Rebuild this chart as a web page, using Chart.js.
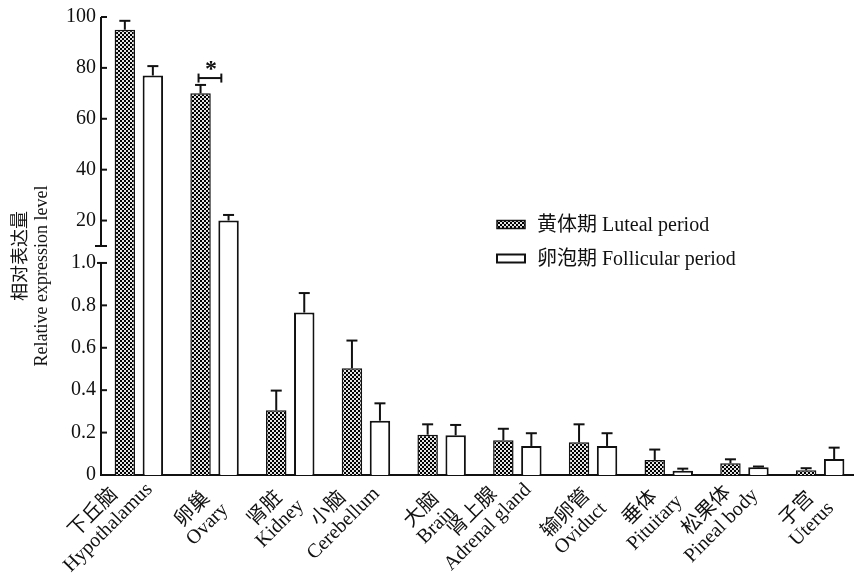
<!DOCTYPE html>
<html>
<head>
<meta charset="utf-8">
<script src="https://cdn.jsdelivr.net/npm/chart.js@4/dist/chart.umd.min.js"></script>
<style>
  html, body { margin: 0; padding: 0; background: #fff; overflow: hidden; width: 854px; height: 578px; }
  #wrap { position: relative; width: 858px; height: 578px; }
</style>
</head>
<body>
<div id="wrap"><canvas id="chart" width="858" height="578"></canvas></div>
<script>
// ---- data -------------------------------------------------------------
const tissuesZh = ['下丘脑', '卵巢', '肾脏', '小脑', '大脑', '肾上腺', '输卵管', '垂体', '松果体', '子宫'];
const tissuesEn = ['Hypothalamus', 'Ovary', 'Kidney', 'Cerebellum', 'Brain', 'Adrenal gland', 'Oviduct', 'Pituitary', 'Pineal body', 'Uterus'];

const lutealMean     = [95.0, 70.0, 0.305, 0.503, 0.190, 0.164, 0.154, 0.071, 0.055, 0.022];
const lutealErr      = [3.5, 3.3, 0.093, 0.131, 0.049, 0.054, 0.085, 0.049, 0.019, 0.010];
const follicularMean = [77.0, 20.0, 0.766, 0.256, 0.187, 0.137, 0.137, 0.020, 0.036, 0.075];
const follicularErr  = [3.7, 2.2, 0.092, 0.082, 0.049, 0.060, 0.060, 0.010, 0.004, 0.054];

const seriesNames = ['黄体期 Luteal period', '卵泡期 Follicular period'];
const yTitleLines = ['相对表达量', 'Relative expression level'];

const yTickValues = [0, 0.2, 0.4, 0.6, 0.8, 1.0, 20, 40, 60, 80, 100];
const yTickLabels = ['0', '0.2', '0.4', '0.6', '0.8', '1.0', '20', '40', '60', '80', '100'];

// luteal vs follicular in the ovary
const significance = { category: 1, level: 76, mark: '*' };

// ---- broken value axis: 0–1 on the lower part, 10–100 on the upper part
const LOW_MAX = 1.0, HIGH_MIN = 10, HIGH_MAX = 100;
const LOW_SHARE = 0.463, HIGH_START = 0.5;

function valueToDecimal(v) {
  if (v <= LOW_MAX) return (v / LOW_MAX) * LOW_SHARE;
  if (v <= HIGH_MIN) return LOW_SHARE + (v - LOW_MAX) / (HIGH_MIN - LOW_MAX) * (HIGH_START - LOW_SHARE);
  return HIGH_START + (v - HIGH_MIN) / (HIGH_MAX - HIGH_MIN) * (1 - HIGH_START);
}
function decimalToValue(d) {
  if (d <= LOW_SHARE) return d / LOW_SHARE * LOW_MAX;
  if (d <= HIGH_START) return LOW_MAX + (d - LOW_SHARE) / (HIGH_START - LOW_SHARE) * (HIGH_MIN - LOW_MAX);
  return HIGH_MIN + (d - HIGH_START) / (1 - HIGH_START) * (HIGH_MAX - HIGH_MIN);
}

class BrokenLinearScale extends Chart.LinearScale {
  buildTicks() { return yTickValues.map(v => ({ value: v })); }
  getPixelForValue(v) { return this.getPixelForDecimal(valueToDecimal(v)); }
  getValueForPixel(p) { return decimalToValue(this.getDecimalForPixel(p)); }
}
BrokenLinearScale.id = 'brokenLinear';
BrokenLinearScale.defaults = {};
Chart.register(BrokenLinearScale);

// ---- styles ------------------------------------------------------------
const INK = '#111';
const SERIF = '"Liberation Serif", "Times New Roman", "Noto Sans CJK SC", serif';

function checkerPattern() {
  const c = document.createElement('canvas');
  c.width = 4; c.height = 4;
  const g = c.getContext('2d');
  g.fillStyle = '#e4e4e4'; g.fillRect(0, 0, 4, 4);
  g.fillStyle = '#000000'; g.fillRect(0, 0, 2, 2); g.fillRect(2, 2, 2, 2);
  return g.createPattern(c, 'repeat');
}
const lutealFill = checkerPattern();

function line(ctx, x1, y1, x2, y2) {
  ctx.beginPath(); ctx.moveTo(x1, y1); ctx.lineTo(x2, y2); ctx.stroke();
}

// ---- extra drawing -----------------------------------------------------
function drawErrorBars(chart) {
  const ctx = chart.ctx, ys = chart.scales.y;
  const errs = [lutealErr, follicularErr];
  ctx.save();
  ctx.strokeStyle = INK; ctx.lineWidth = 2;
  chart.data.datasets.forEach((ds, di) => {
    chart.getDatasetMeta(di).data.forEach((bar, i) => {
      const top = ys.getPixelForValue(ds.data[i] + errs[di][i]);
      line(ctx, bar.x, bar.y, bar.x, top);
      line(ctx, bar.x - 5.5, top, bar.x + 5.5, top);
    });
  });
  ctx.restore();
}

function drawSignificance(chart) {
  const ctx = chart.ctx, ys = chart.scales.y;
  const a = chart.getDatasetMeta(0).data[significance.category];
  const b = chart.getDatasetMeta(1).data[significance.category];
  const y = ys.getPixelForValue(significance.level);
  const x1 = a.x - 2, x2 = b.x - b.width / 2 + 3;
  ctx.save();
  ctx.strokeStyle = INK; ctx.lineWidth = 2;
  line(ctx, x1, y, x2, y);
  line(ctx, x1, y - 4.5, x1, y + 4.5);
  line(ctx, x2, y - 4.5, x2, y + 4.5);
  ctx.fillStyle = INK;
  ctx.font = 'bold 24px ' + SERIF;
  ctx.textAlign = 'center'; ctx.textBaseline = 'middle';
  ctx.fillText(significance.mark, (x1 + x2) / 2 + 1, y - 8);
  ctx.restore();
}

function drawYAxis(chart) {
  const ctx = chart.ctx, ys = chart.scales.y, x0 = chart.chartArea.left;
  ctx.save();
  ctx.strokeStyle = INK; ctx.lineWidth = 2; ctx.lineCap = 'butt';
  const pLowTop = ys.getPixelForValue(LOW_MAX);
  const pHighBottom = ys.getPixelForValue(HIGH_MIN);
  line(ctx, x0, ys.getPixelForValue(0) + 1, x0, pLowTop);
  line(ctx, x0, pHighBottom, x0, ys.getPixelForValue(HIGH_MAX));
  yTickValues.forEach(v => {
    if (v === 0) return;
    const py = ys.getPixelForValue(v);
    if (v === LOW_MAX) line(ctx, x0 - 4, py, x0 + 6, py);
    else line(ctx, x0, py, x0 + 6, py);
  });
  line(ctx, x0 - 6, pHighBottom, x0 + 6, pHighBottom);
  ctx.restore();
}

function drawCategoryLabels(chart) {
  const ctx = chart.ctx, xs = chart.scales.x, base = chart.chartArea.bottom;
  const u = { x: Math.SQRT1_2, y: -Math.SQRT1_2 };   // along the text
  const n = { x: Math.SQRT1_2, y: Math.SQRT1_2 };    // to the next line
  const gap = 21, half = 9;
  ctx.save();
  ctx.font = '20px ' + SERIF;
  ctx.fillStyle = INK;
  tissuesZh.forEach((zh, i) => {
    const lines = [zh, tissuesEn[i]];
    const widths = lines.map(t => ctx.measureText(t).width);
    const centres = lines.map((_, k) => ({ x: k * gap * n.x, y: k * gap * n.y }));
    let minX = Infinity, maxX = -Infinity, minY = Infinity, maxY = -Infinity;
    centres.forEach((c, k) => {
      for (const a of [-1, 1]) for (const b of [-1, 1]) {
        const px = c.x + a * widths[k] / 2 * u.x + b * half * n.x;
        const py = c.y + a * widths[k] / 2 * u.y + b * half * n.y;
        minX = Math.min(minX, px); maxX = Math.max(maxX, px);
        minY = Math.min(minY, py); maxY = Math.max(maxY, py);
      }
    });
    const hs = (maxY - minY) / 2;
    const dx = xs.getPixelForTick(i) + 17 - maxX;
    const dy = base + 29 + hs / 2 - (minY + maxY) / 2;
    centres.forEach((c, k) => {
      ctx.save();
      ctx.translate(c.x + dx, c.y + dy);
      ctx.rotate(-Math.PI / 4);
      ctx.textAlign = 'center'; ctx.textBaseline = 'middle';
      ctx.fillText(lines[k], 0, 0);
      ctx.restore();
    });
  });
  ctx.restore();
}

function drawYTitle(chart) {
  const ctx = chart.ctx;
  ctx.save();
  ctx.fillStyle = INK;
  ctx.font = '18px ' + SERIF;
  ctx.textAlign = 'center'; ctx.textBaseline = 'middle';
  [[21, 256], [42, 276]].forEach(([x, y], k) => {
    ctx.save(); ctx.translate(x, y); ctx.rotate(-Math.PI / 2);
    ctx.fillText(yTitleLines[k], 0, 0);
    ctx.restore();
  });
  ctx.restore();
}

function drawLegend(chart) {
  const ctx = chart.ctx;
  const left = 497, rows = [224.5, 258.5];
  ctx.save();
  ctx.font = '20px ' + SERIF;
  ctx.textAlign = 'left'; ctx.textBaseline = 'middle';
  chart.data.datasets.forEach((ds, k) => {
    const cy = rows[k];
    ctx.fillStyle = ds.backgroundColor;
    ctx.fillRect(left, cy - 4, 28, 8);
    ctx.strokeStyle = INK; ctx.lineWidth = ds.borderWidth;
    ctx.strokeRect(left, cy - 4, 28, 8);
    ctx.fillStyle = INK;
    ctx.fillText(ds.label, left + 40, cy + 1);
  });
  ctx.restore();
}

const decorations = {
  id: 'decorations',
  afterDatasetsDraw(chart) { drawErrorBars(chart); drawSignificance(chart); },
  afterDraw(chart) { drawYAxis(chart); drawCategoryLabels(chart); drawYTitle(chart); drawLegend(chart); }
};

// ---- chart -------------------------------------------------------------
new Chart(document.getElementById('chart'), {
  type: 'bar',
  data: {
    labels: tissuesEn,
    datasets: [
      { label: seriesNames[0], data: lutealMean, backgroundColor: lutealFill,
        borderColor: INK, borderWidth: 1.5 },
      { label: seriesNames[1], data: follicularMean, backgroundColor: '#ffffff',
        borderColor: INK, borderWidth: 2 }
    ]
  },
  options: {
    responsive: false,
    animation: false,
    devicePixelRatio: 1,
    layout: { padding: { top: 17, bottom: 103, left: 0, right: 0 } },
    datasets: { bar: { barPercentage: 0.73, categoryPercentage: 0.74 } },
    plugins: { legend: { display: false }, tooltip: { enabled: false } },
    scales: {
      x: {
        type: 'category',
        offset: true,
        grid: { display: false, drawTicks: false },
        border: { display: true, color: INK, width: 2 },
        ticks: { display: false }
      },
      y: {
        type: 'brokenLinear',
        min: 0, max: 100,
        grid: { display: false, drawTicks: false },
        border: { display: false },
        afterFit(scale) { scale.width = 101; },
        ticks: {
          autoSkip: false,
          padding: 5,
          color: INK,
          font: { family: SERIF, size: 20 },
          callback: (value) => yTickLabels[yTickValues.indexOf(value)]
        }
      }
    }
  },
  plugins: [decorations]
});
</script>
</body>
</html>
